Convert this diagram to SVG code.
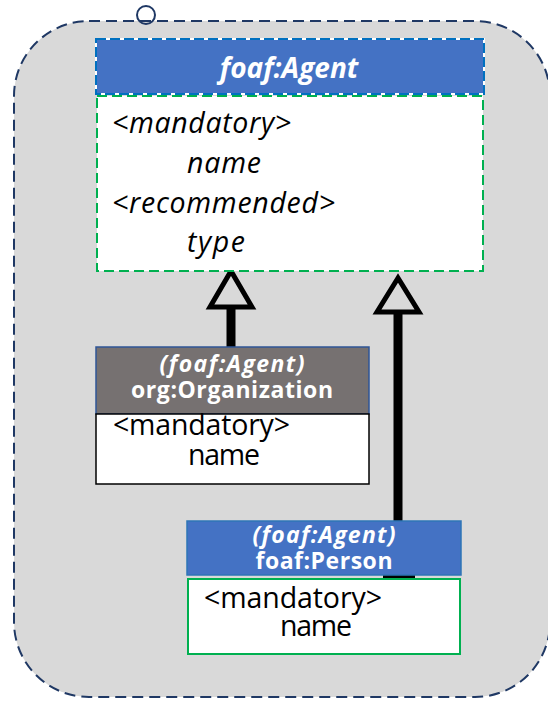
<svg xmlns="http://www.w3.org/2000/svg" width="548" height="701" viewBox="0 0 548 701">
<style>
.t{font-family:"Open Sans","Noto Sans",sans-serif;}
.w{fill:#ffffff;font-weight:bold;text-anchor:middle;}
.bi{font-style:italic;}
.body{fill:#000000;font-size:28.5px;}
.stem{stroke:#000000;stroke-width:9;fill:none;}
.tri{stroke:#000000;stroke-width:5;fill:#D9D9D9;stroke-linejoin:miter;}
</style>
<rect width="548" height="701" fill="#ffffff"/>
<g id="container">
<rect x="14" y="21" width="536" height="676" rx="75" ry="75" fill="#D9D9D9" stroke="#1F3864" stroke-width="2" stroke-dasharray="11 6"/>
<circle cx="146" cy="15" r="9" fill="none" stroke="#1F3864" stroke-width="2"/>
</g>
<g id="connectors">
<line class="stem" x1="231" y1="306" x2="231" y2="347"/>
<polygon class="tri" points="231,271 210,307 252,307"/>
<line class="stem" x1="398" y1="312" x2="398" y2="576"/>
<polygon class="tri" points="398,278 377,312 419,312"/>
<rect x="383" y="574" width="32" height="5" fill="#000000"/>
</g>
<g id="agent">
<rect x="96" y="39" width="388" height="55" fill="#4472C4"/>
<rect x="96" y="39" width="388" height="55" fill="none" stroke="#ffffff" stroke-width="2"/>
<rect x="96" y="39" width="388" height="55" fill="none" stroke="#0070C0" stroke-width="2" stroke-dasharray="10 4"/>
<text class="t w bi" x="289" y="78" font-size="28">foaf:Agent</text>
<rect x="97" y="96" width="386" height="175" fill="#ffffff"/>
<rect x="97" y="96" width="386" height="175" fill="none" stroke="#00B050" stroke-width="2" stroke-dasharray="10 5"/>
<text class="t body bi" x="112" y="133" textLength="179" lengthAdjust="spacing">&lt;mandatory&gt;</text>
<text class="t body bi" x="187" y="173" textLength="74" lengthAdjust="spacing">name</text>
<text class="t body bi" x="112" y="213" textLength="223" lengthAdjust="spacing">&lt;recommended&gt;</text>
<text class="t body bi" x="187" y="252" textLength="58" lengthAdjust="spacing">type</text>
</g>
<g id="organization">
<rect x="96" y="347" width="273" height="67" fill="#767171" stroke="#2F5597" stroke-width="1.5"/>
<text class="t w bi" x="232" y="372" font-size="23" textLength="145" lengthAdjust="spacing">(foaf:Agent)</text>
<text class="t w" x="232" y="398" font-size="23" textLength="202" lengthAdjust="spacing">org:Organization</text>
<rect x="96" y="414" width="273" height="70" fill="#ffffff" stroke="#000000" stroke-width="1.5"/>
<text class="t body" x="113" y="435" textLength="177" lengthAdjust="spacing">&lt;mandatory&gt;</text>
<text class="t body" x="188" y="465" textLength="72" lengthAdjust="spacing">name</text>
</g>
<g id="person">
<rect x="187" y="521" width="274" height="54" fill="#4472C4" stroke="#2E75B6" stroke-width="1.5"/>
<text class="t w bi" x="324" y="543" font-size="23" textLength="143" lengthAdjust="spacing">(foaf:Agent)</text>
<text class="t w" x="324" y="569" font-size="23" textLength="137" lengthAdjust="spacing">foaf:Person</text>
<rect x="188" y="579" width="272" height="75" fill="#ffffff" stroke="#00B050" stroke-width="2"/>
<text class="t body" x="204" y="608" textLength="178" lengthAdjust="spacing">&lt;mandatory&gt;</text>
<text class="t body" x="280" y="636" textLength="72" lengthAdjust="spacing">name</text>
</g>
</svg>
